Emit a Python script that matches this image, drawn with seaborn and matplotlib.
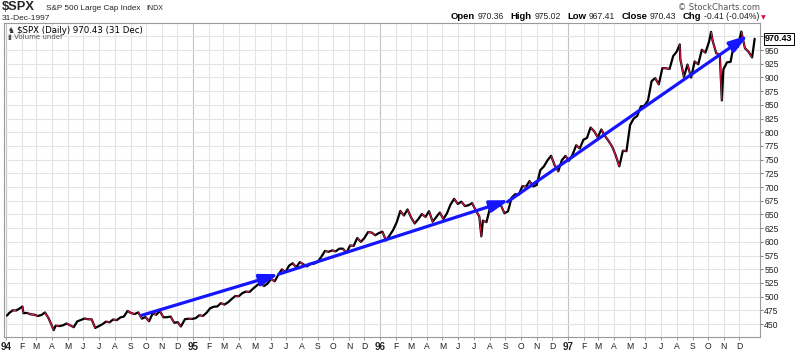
import numpy as np
import pandas as pd
import matplotlib
matplotlib.use("Agg")
import matplotlib.pyplot as plt
import seaborn as sns

# ---------------- data ----------------
closes_1994 = [469.9, 474.9, 474.7, 478.7, 469.8, 470.2, 467.7, 467.0,
               464.7, 466.4, 471.1, 460.6, 445.8, 447.1, 446.2, 447.6, 450.9,
               447.8, 444.1, 454.9, 457.3, 460.1, 458.7, 458.5, 442.8,
               446.2, 449.6, 454.4, 453.1, 458.3, 457.1, 461.9, 463.7, 473.8,
               470.0, 468.2, 471.2, 459.7, 462.7, 455.1, 469.1, 466.9, 473.8,
               462.3, 462.4, 463.6, 452.3, 453.3, 446.9, 458.8, 459.7, 459.3]
closes_1995 = [460.7, 466.0, 464.8, 470.4, 478.6, 481.5, 482.0, 488.1,
               485.4, 489.6, 495.5, 501.0, 500.7, 506.4, 509.2, 508.5, 514.7,
               520.1, 525.6, 519.2, 523.7, 532.5, 527.9, 539.8, 549.7, 544.8,
               556.4, 560.9, 553.5, 562.9, 558.9, 555.1, 560.0, 560.1,
               563.8, 572.7, 583.4, 581.7, 584.4, 582.6, 587.5, 587.5, 579.7,
               593.3, 592.7, 607.0, 600.0, 607.0, 617.7, 616.9, 612.0, 615.9]
closes_1996 = [618.5, 602.7, 611.4, 621.6, 635.8, 656.4, 648.0, 659.1,
               644.4, 633.5, 641.4, 650.6, 645.5, 655.9, 636.7, 645.1, 653.5,
               641.6, 652.1, 668.3, 678.5, 669.1, 673.3, 665.2, 666.8, 670.6,
               657.4, 646.2, 638.7, 635.9, 662.5, 662.1, 665.2, 667.0, 652.0,
               655.7, 680.5, 687.0, 686.2, 701.5, 700.7, 710.8, 700.9,
               703.8, 730.8, 737.6, 748.7, 757.0, 739.6, 728.6, 748.9, 756.8]
closes_1997 = [748.0, 759.5, 776.2, 770.5, 786.2, 789.6, 808.5, 801.8, 790.8,
               805.0, 793.2, 784.1, 773.9, 757.9, 737.7, 766.3, 765.4,
               813.0, 824.8, 829.8, 847.0, 848.3, 858.0, 893.3, 898.7, 887.3,
               916.9, 916.7, 915.3, 938.8, 947.1, 933.5, 900.8, 923.5, 899.5,
               929.1, 923.9, 950.5, 945.2, 965.0, 967.0, 944.2, 941.6, 914.6,
               927.5, 928.4, 963.1, 955.4, 983.8, 953.4, 946.8, 936.5]
extra_dates = ["1994-01-03", "1994-02-02", "1994-04-04", "1994-12-08",
               "1996-07-16", "1997-08-07", "1997-10-07", "1997-10-27",
               "1997-10-28", "1997-12-31"]
extra_closes = [465.4, 482.0, 438.9, 445.5, 610.0, 960.3, 983.1, 877.0,
                858.0, 970.43]

arrow_starts = ["1994-09-23", "1995-06-17", "1996-09-05"]
arrow_start_values = [466, 541, 673]
arrow_ends = ["1995-06-17", "1996-09-08", "1997-12-18"]
arrow_end_values = [541, 676, 977]

y_ticks = list(range(450, 1000, 25))
month_letters = ["J", "F", "M", "A", "M", "J", "J", "A", "S", "O", "N", "D"]

# ---------------- build frame ----------------
fridays = pd.date_range("1994-01-07", "1997-12-26", freq="W-FRI")
weekly = pd.DataFrame({"date": fridays,
                       "close": closes_1994 + closes_1995 + closes_1996 + closes_1997})
extra = pd.DataFrame({"date": pd.to_datetime(extra_dates), "close": extra_closes})
df = pd.concat([weekly, extra]).sort_values("date").reset_index(drop=True)

# ---------------- figure ----------------
sns.set_theme(style="white")
plt.rcParams["font.family"] = ["Liberation Sans", "DejaVu Sans"]
W, H = 800, 351
fig = plt.figure(figsize=(W / 100, H / 100), dpi=100)
ax = fig.add_axes([4 / W, 1 - 337 / H, 756 / W, 314 / H])

x0 = pd.Timestamp("1994-01-01")
ax.set_xlim(x0 - pd.Timedelta(days=3.9), x0 + pd.Timedelta(days=1470.4))
ax.set_ylim(426.3, 999.3)

# grid
months = pd.date_range("1994-01-01", "1997-12-01", freq="MS")
for m in months:
    ax.axvline(m, color="#c4c4c4" if m.month == 1 else "#e4e4e4", lw=0.8, zorder=0)
for v in y_ticks:
    ax.axhline(v, color="#e4e4e4", lw=0.8, zorder=0)

# price line
sns.lineplot(data=df, x="date", y="close", color="black", lw=1.6, ax=ax, zorder=3)
d = df["date"].values
c = df["close"].values
for i in range(len(c) - 1):
    if c[i + 1] < c[i]:
        ax.plot(d[i:i + 2], c[i:i + 2], color="#e8174a", lw=0.8, zorder=4,
                solid_capstyle="butt")

# arrows
for s, sv, e, ev in zip(arrow_starts, arrow_start_values, arrow_ends, arrow_end_values):
    ax.annotate("", xy=(pd.Timestamp(e), ev), xytext=(pd.Timestamp(s), sv),
                arrowprops=dict(arrowstyle="-|>,head_length=0.7,head_width=0.22",
                                mutation_scale=16, color="#1515ff", lw=2.3,
                                shrinkA=0, shrinkB=0), zorder=6)

# axes styling
ax.set_xlabel("")
ax.set_ylabel("")
for sp in ax.spines.values():
    sp.set_color("#9a9a9a")
    sp.set_linewidth(0.8)
ax.yaxis.tick_right()
ax.set_yticks(y_ticks)
ax.set_yticklabels(["" if v == 975 else str(v) for v in y_ticks])
ax.tick_params(axis="y", which="both", right=True, left=False, length=2,
               width=0.6, color="#666666", pad=1, labelsize=6.2, labelcolor="#222222")
ax.set_xticks(months)
xl = [f"{m.year % 100:02d}" if m.month == 1 else month_letters[m.month - 1] for m in months]
ax.set_xticklabels(xl)
ax.tick_params(axis="x", which="both", bottom=True, length=2, width=0.6,
               color="#888888", pad=1.5, labelsize=6.2, labelcolor="#222222")
for lab, m in zip(ax.get_xticklabels(), months):
    if m.month == 1:
        lab.set_fontweight("bold")
        lab.set_fontsize(7)

# last value box
ax.annotate("970.43", xy=(1.0, 970.43), xycoords=("axes fraction", "data"),
            xytext=(3.5, 0), textcoords="offset points", ha="left", va="center",
            fontsize=6.5, fontweight="bold", color="black",
            bbox=dict(boxstyle="square,pad=0.15", fc="white", ec="black", lw=0.7),
            annotation_clip=False, zorder=10)

# in-plot legend
ax.text(17 / W, 1 - 30.5 / H, "$SPX (Daily) 970.43 (31 Dec)", transform=fig.transFigure,
        fontsize=6.2, family="DejaVu Sans", va="center", ha="left", color="black", zorder=10)
ax.text(8 / W, 1 - 30.5 / H, "♞", transform=fig.transFigure, fontsize=5.5,
        family="DejaVu Sans", va="center", ha="left", color="#333333", zorder=10)
ax.text(8 / W, 1 - 37.5 / H, "▮ Volume undef", transform=fig.transFigure,
        fontsize=5, family="DejaVu Sans", va="center", ha="left", color="#555555", zorder=10)

# header
fig.text(2 / W, 1 - 10 / H, "$SPX", fontsize=9.3, fontweight="bold", va="baseline", ha="left")
fig.text(46 / W, 1 - 10 / H, "S&P 500 Large Cap Index", fontsize=5.9, va="baseline", ha="left")
fig.text(146 / W, 1 - 10 / H, "INDX", fontsize=5, va="baseline", ha="left")
fig.text(2 / W, 1 - 19.5 / H, "31-Dec-1997", fontsize=6.0, va="baseline", ha="left")
fig.text(760 / W, 1 - 9.5 / H, "© StockCharts.com", fontsize=6, va="baseline", ha="right",
         color="#555555", family="DejaVu Sans")

renderer = fig.canvas.get_renderer()
pieces = [("Open", True), ("970.36", False), ("High", True), ("975.02", False),
          ("Low", True), ("967.41", False), ("Close", True), ("970.43", False),
          ("Chg", True), ("-0.41 (-0.04%)", False)]
objs = []
widths = []
for s, b in pieces:
    t = fig.text(0, 1 - 19 / H, s, fontsize=6.8 if b else 6.2,
                 fontweight="bold" if b else "normal", va="baseline", ha="left",
                 color="black" if b else "#222222")
    objs.append(t)
    widths.append(t.get_window_extent(renderer).width)
tri = fig.text(0, 1 - 19 / H, "▼", fontsize=4.5, color="#e0103a", va="baseline",
               ha="left", family="DejaVu Sans")
tw = tri.get_window_extent(renderer).width
gaps = [3 if b else 6 for (_, b) in pieces]
gaps[-1] = 2
total = sum(widths) + sum(gaps) + tw
x = 766 - total
for t, w, g in zip(objs, widths, gaps):
    t.set_x(x / W)
    x += w + g
tri.set_x(x / W)

fig.savefig("out.png", dpi=100)
